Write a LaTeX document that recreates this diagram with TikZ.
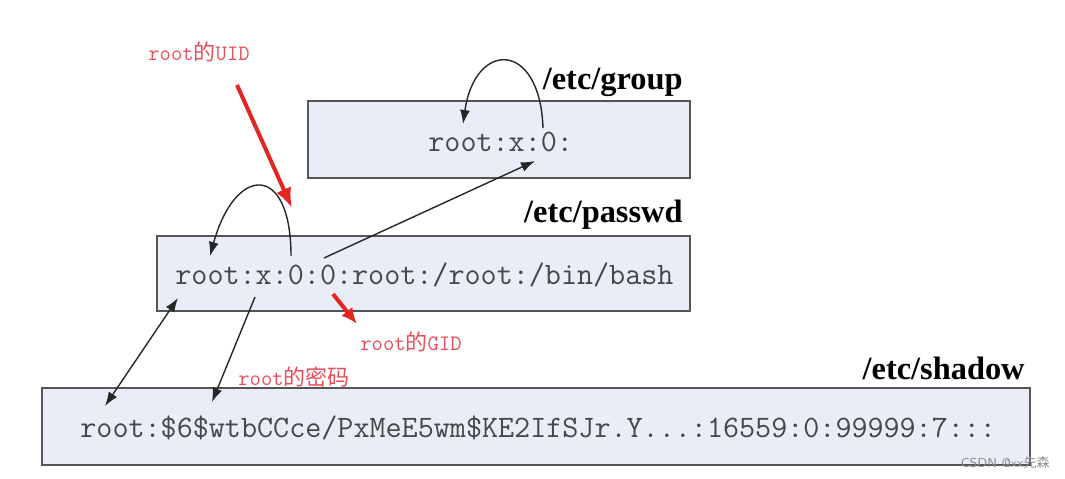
\documentclass[tikz,border=0pt]{standalone}
\usepackage{fontspec}
\setmainfont{Liberation Serif}
\newfontfamily\cjk{Noto Sans CJK SC}
\usetikzlibrary{arrows.meta,positioning}
\definecolor{boxfill}{RGB}{232,237,247}
\definecolor{boxline}{RGB}{85,85,85}
\definecolor{notered}{RGB}{232,78,88}
\definecolor{arrowred}{RGB}{226,38,34}

\begin{document}
\begin{tikzpicture}[
    x=0.5pt, y=-0.5pt,
    filebox/.style={rectangle, draw=boxline, fill=boxfill, line width=1.3pt, inner sep=0pt},
    entry/.style={font=\ttfamily\fontsize{15.6}{18}\selectfont, text=black!72, inner sep=0pt},
    fname/.style={font=\bfseries\fontsize{16.2}{18}\selectfont, inner sep=0pt, anchor=east},
    note/.style={font=\ttfamily\fontsize{11}{13}\selectfont, text=notered, inner sep=0pt, anchor=west},
    link/.style={line width=0.7pt, black!85, -{Latex[length=7pt,width=5pt]}},
    bothlink/.style={line width=0.7pt, black!85, {Latex[length=7pt,width=5pt]}-{Latex[length=7pt,width=5pt]}},
    redarrow/.style={line width=2pt, arrowred, -{Latex[length=10pt,width=8pt]}}
]
\useasboundingbox (0,0) rectangle (1065,478);

% File boxes
\node[filebox, minimum width=191pt, minimum height=38.5pt] (groupbox) at (499,139.5) {};
\node[filebox, minimum width=266.5pt, minimum height=37.5pt] (passwdbox) at (423.5,273.5) {};
\node[filebox, minimum width=494pt, minimum height=38.5pt] (shadowbox) at (536,426.5) {};

% File names
\node[fname] (groupname) at (683,82) {/etc/group};
\node[fname] (passwdname) at (683,215) {/etc/passwd};
\node[fname] (shadowname) at (1025,368) {/etc/shadow};

% Entries
\node[entry, anchor=west] (groupline) at (428,142) {root:x:0:};
\node[entry, anchor=west] (passwdline) at (175,275) {root:x:0:0:root:/root:/bin/bash};
\node[entry, anchor=west] (shadowline) at (80,428) {root:\$6\$wtbCCce/PxMeE5wm\$KE2IfSJr.Y...:16559:0:99999:7:::};

% Notes
\node[note] (uidnote) at (148,52) {root{\cjk 的}UID};
\node[note] (gidnote) at (360,342) {root{\cjk 的}GID};
\node[note] (pwnote) at (238,377) {root{\cjk 的密码}};
\node[font=\sffamily\fontsize{6.5}{8}\selectfont, text=black!45, anchor=east, inner sep=0pt] (mark) at (1050,463) {CSDN @xx{\cjk 先森}};

% Arrow ends
\coordinate (grproot) at (463,124);
\coordinate (grpzero) at (543,128);
\coordinate (grpzerob) at (535,161);
\coordinate (pwroot) at (210,256);
\coordinate (pwuid) at (291,256);
\coordinate (pwgid) at (324,258);
\coordinate (pwrootb) at (178,298);
\coordinate (pwx) at (255,297);
\coordinate (shroot) at (105,406);
\coordinate (shpw) at (212,402);
\coordinate (uidtip) at (292,208);
\coordinate (uidtail) at (237,85);
\coordinate (gidtail) at (333,294);
\coordinate (gidtip) at (357,324);

% Links inside and between files
\draw[link] (grpzero) .. controls (540,40) and (475,40) .. (grproot);
\draw[link] (pwuid) .. controls (291,162) and (235,165) .. (pwroot);
\draw[link] (pwgid) -- (grpzerob);
\draw[bothlink] (pwrootb) -- (shroot);
\draw[link] (pwx) -- (shpw);

% Red pointers
\draw[redarrow] (uidtail) -- (uidtip);
\draw[redarrow, -{Latex[length=8pt,width=7pt]}] (gidtail) -- (gidtip);

\end{tikzpicture}
\end{document}
